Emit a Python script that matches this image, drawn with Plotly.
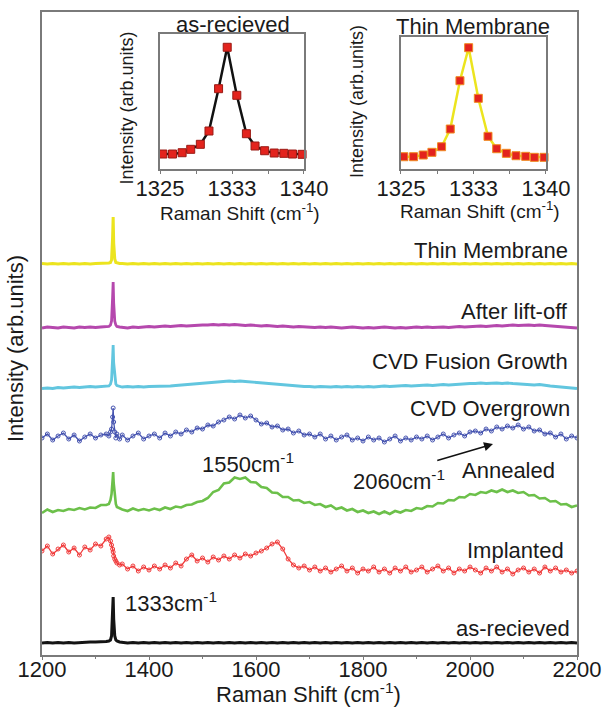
import plotly.graph_objects as go

# ---------------- main spectra data (intensity in arb. units) ----------------
raman_shift = [
    1200, 1210, 1220, 1230, 1240, 1250, 1260, 1270, 1280, 1290, 1300, 1310, 1320,
    1325, 1328, 1330, 1332, 1333, 1334, 1336, 1338, 1340, 1345,
    1350, 1360, 1370, 1380, 1390, 1400,
    1410, 1420, 1430, 1440, 1450, 1460, 1470, 1480, 1490, 1500,
    1510, 1520, 1530, 1540, 1550, 1560, 1570, 1580, 1590, 1600,
    1610, 1620, 1630, 1640, 1650, 1660, 1670, 1680, 1690, 1700,
    1710, 1720, 1730, 1740, 1750, 1760, 1770, 1780, 1790, 1800,
    1810, 1820, 1830, 1840, 1850, 1860, 1870, 1880, 1890, 1900,
    1910, 1920, 1930, 1940, 1950, 1960, 1970, 1980, 1990, 2000,
    2010, 2020, 2030, 2040, 2050, 2060, 2070, 2080, 2090, 2100,
    2110, 2120, 2130, 2140, 2150, 2160, 2170, 2180, 2190, 2200,
]

thin_membrane = [
    391.5, 391, 391.5, 391, 391.5, 391, 391.5, 391, 391.5, 391, 391.5, 391.5, 391.5,
    392, 392.5, 395, 418, 438, 412, 396, 392.5, 392, 391.5,
    391.5, 391, 391.5, 391, 391.5, 391,
    391.5, 391, 391.5, 391, 391.5, 391, 391.5, 391, 391.5, 391,
    391.5, 391, 391.5, 391, 391.5, 391, 391.5, 391, 391.5, 391,
    391.5, 391, 391.5, 391, 391.5, 391, 391.5, 391, 391.5, 391,
    391.5, 391, 391.5, 391, 391.5, 391, 391.5, 391, 391.5, 391,
    391.5, 391, 391.5, 391, 391.5, 391, 391.5, 391, 391.5, 391,
    391.5, 391, 391.5, 391, 391.5, 391, 391.5, 391, 391.5, 391,
    391.5, 391, 391.5, 391, 391.5, 391, 391.5, 391, 391.5, 391,
    391.5, 391, 391.5, 391, 391.5, 391, 391.5, 391, 391.5, 391,
]

after_liftoff = [
    327, 328, 327.5, 327, 328, 327.5, 327, 328, 327.5, 328, 327.5, 328, 328,
    328.5, 330, 334, 358, 373, 352, 334, 330, 328.5, 328,
    327.5, 327, 328, 327.5, 328, 328.5,
    328, 328.5, 329, 328.5, 329, 329.5, 329, 329.5, 330, 330,
    330, 330.5, 330, 330.5, 330, 330.5, 330, 329.5, 330, 329.5,
    329, 329.5, 329, 328.5, 329, 328.5, 328, 328.5, 328, 328,
    327.5, 328, 327.5, 328, 327.5, 327, 327.5, 328, 327.5, 327,
    327.5, 327, 327.5, 328, 327.5, 327, 327.5, 327, 327.5, 328,
    327.5, 328, 327.5, 328, 328, 327.5, 328, 328.5, 328, 328.5,
    328.5, 329, 328.5, 329, 329.5, 329, 329.5, 330, 329.5, 330,
    330, 329.5, 330, 329.5, 329, 328.5, 328, 327.5, 327.5, 327,
]

cvd_fusion = [
    266.5, 267, 266.5, 267.5, 267, 267.5, 268, 267.5, 268, 268.5, 268, 268.5, 268.5,
    269, 271, 275, 297, 310, 292, 276, 271, 269.5, 268.5,
    268, 268.5, 268, 268.5, 268, 268.5,
    268.5, 269, 268.5, 269, 269.5, 270, 270.5, 271, 271.5, 272,
    272.5, 273, 273.5, 274, 274, 273.5, 274, 273.5, 273, 272.5,
    272, 271.5, 271, 270.5, 270, 269.5, 269, 269, 268.5, 268.5,
    268, 268.5, 268, 268, 268.5, 268, 268.5, 268, 268.5, 268,
    268.5, 268, 268.5, 269, 268.5, 269, 269, 269.5, 269, 269.5,
    269.5, 270, 269.5, 270, 270.5, 270, 270.5, 271, 271, 271.5,
    271.5, 272, 271.5, 272, 272, 271.5, 272, 271.5, 271, 271,
    270.5, 270, 270.5, 269.5, 269, 268.5, 268, 267.5, 267, 266.5,
]

cvd_overgrown = [
    217, 221, 215, 219, 222, 216, 220, 214, 218, 221, 217, 220, 221,
    219, 223, 226, 238, 247, 233, 223, 217, 221, 216,
    220, 215, 219, 222, 216, 219,
    221, 217, 222, 219, 223, 221, 225, 223, 227, 226,
    230, 229, 233, 235, 238, 236, 240, 237, 239, 235,
    231, 232, 228, 229, 225, 226, 222, 224, 220, 221,
    218, 221, 216, 219, 215, 218, 220, 215, 217, 214,
    218, 215, 217, 213, 216, 219, 214, 217, 215, 218,
    216, 219, 215, 218, 221, 217, 220, 222, 219, 223,
    224, 222, 226, 224, 228, 226, 229, 227, 230, 226,
    228, 224, 225, 221, 222, 218, 221, 216, 219, 217,
]

annealed = [
    142, 145.5, 143, 145, 144, 146, 145, 147, 145.5, 147.5, 147, 150, 150,
    151, 155, 161, 175, 183, 172, 158, 151, 148, 146.5,
    145.5, 144, 146.5, 144.5, 146, 144.5,
    146.5, 145, 147.5, 146, 148.5, 147.5, 150, 150.5, 153, 154,
    157, 163, 165, 171.5, 172.5, 177.5, 176, 177.5, 173, 172.5,
    168, 167, 162.5, 162, 158, 158, 154.5, 155, 152, 153,
    150, 151, 148, 149.5, 146, 147.5, 144.5, 146, 143, 144.5,
    142, 143.5, 141, 143.5, 141, 144, 142.5, 145, 144, 147,
    146, 149, 148.5, 152, 151.5, 155, 154.5, 158, 157.5, 161,
    160, 163, 162, 164.5, 163, 165.5, 163, 164.5, 162, 163,
    159.5, 160, 156.5, 157, 153.5, 154, 150.5, 151, 148, 149.5,
]

implanted = [
    104, 109, 101, 106, 110, 103, 107, 100, 108, 105, 111, 109, 116,
    118, 114, 110, 106, 103, 99, 96, 94, 92, 90,
    91, 86, 89, 84, 88, 85,
    89, 86, 90, 87, 92, 89, 96, 100, 94, 97,
    93, 98, 95, 99, 96, 100, 97, 101, 99, 102,
    104, 107, 111, 113, 106, 96, 90, 87, 89, 85,
    88, 84, 87, 83, 86, 89, 84, 87, 82, 86,
    84, 88, 83, 86, 82, 87, 84, 88, 83, 85,
    88, 83, 86, 89, 84, 87, 82, 86, 84, 88,
    85, 82, 87, 84, 88, 83, 86, 81, 85, 87,
    83, 86, 82, 88, 84, 87, 83, 85, 82, 84,
]

as_received = [
    12, 12.5, 12, 12.5, 12, 12.5, 12, 12.5, 12.5, 13, 13, 13, 13.5,
    14, 15, 19, 42, 58, 36, 19, 15, 14, 13,
    12.5, 12, 12.5, 12, 12.5, 12,
    12.5, 12, 12.5, 12, 12.5, 12, 12.5, 12, 12.5, 12,
    12.5, 12, 12.5, 12, 12.5, 12, 12.5, 12, 12.5, 12,
    12.5, 12, 12.5, 12, 12.5, 12, 12.5, 12, 12.5, 12,
    12.5, 12, 12.5, 12, 12.5, 12, 12.5, 12, 12.5, 12,
    12.5, 12, 12.5, 12, 12.5, 12, 12.5, 12, 12.5, 12,
    12.5, 12, 12.5, 12, 12.5, 12, 12.5, 12, 12.5, 12,
    12.5, 12, 12.5, 12, 12.5, 12, 12.5, 12, 12.5, 12,
    12.5, 12, 12.5, 12, 12.5, 12, 12.5, 12, 12.5, 12,
]

# ---------------- inset data ----------------
inset_shift = [1325.3, 1326.3, 1327.3, 1328.2, 1329.2, 1330.1, 1331.1, 1332.0,
               1333.0, 1334.0, 1334.9, 1335.9, 1336.9, 1337.9, 1338.8, 1339.8]
inset_as_received = [15, 15, 16.3, 19.7, 24.7, 38, 80.3, 121.7,
                     73.7, 35.3, 23, 18.3, 16, 15.7, 15, 14.7]
inset_thin_membrane = [12.3, 12.3, 14, 16.7, 22.3, 40, 88.3, 121.3,
                       70.7, 32.7, 20.3, 15.7, 13.3, 12.7, 11.7, 11.7]
inset_tickvals = [1325, 1332.5, 1340]
inset_ticktext = ["1325", "1333", "1340"]
inset_minor_ticks = [1328.75, 1336.25]
main_tickvals = [1200, 1400, 1600, 1800, 2000, 2200]

# (name, values, colour, line width, open-circle markers?)
series = [
    ("as-recieved", as_received, "#141414", 3.0, False),
    ("Implanted", implanted, "#f03a3a", 1.3, True),
    ("Annealed", annealed, "#6cc04a", 2.6, False),
    ("CVD Overgrown", cvd_overgrown, "#4553b0", 1.3, True),
    ("CVD Fusion Growth", cvd_fusion, "#62c6df", 2.8, False),
    ("After lift-off", after_liftoff, "#b548ad", 2.8, False),
    ("Thin Membrane", thin_membrane, "#ece41e", 3.0, False),
]
for s in series:
    if len(s[1]) != len(raman_shift):
        raise ValueError(f"{s[0]}: {len(s[1])} vs {len(raman_shift)}")

FONT = "Liberation Sans, Arial, sans-serif"
TXT = "#1a1a1a"
FRAME = "#7a7a7a"

fig = go.Figure()
for name, ys, col, w, mk in series:
    fig.add_trace(go.Scatter(x=raman_shift, y=ys, mode="lines+markers" if mk else "lines",
                             name=name, line=dict(color=col, width=w),
                             marker=dict(symbol="circle-open", size=4, color=col,
                                         line=dict(width=1)),
                             xaxis="x", yaxis="y", showlegend=False))

fig.add_trace(go.Scatter(x=inset_shift, y=inset_as_received, mode="lines+markers",
                         line=dict(color="#111111", width=2.5),
                         marker=dict(symbol="square", size=8, color="#e3231d",
                                     line=dict(color="#9a1a14", width=1)),
                         xaxis="x2", yaxis="y2", showlegend=False, cliponaxis=False))
fig.add_trace(go.Scatter(x=inset_shift, y=inset_thin_membrane, mode="lines+markers",
                         line=dict(color="#ece41e", width=2.5),
                         marker=dict(symbol="square", size=8, color="#e3231d",
                                     line=dict(color="#f08a20", width=1)),
                         xaxis="x3", yaxis="y3", showlegend=False, cliponaxis=False))

axis_common = dict(showline=True, linecolor=FRAME, linewidth=1.5, mirror=True,
                   showgrid=False, zeroline=False)

inset_x = dict(range=[1325, 1340], tickvals=inset_tickvals, ticktext=inset_ticktext,
               ticks="outside", ticklen=3, tickcolor=FRAME, ticklabelstandoff=-4,
               minor=dict(tickvals=inset_minor_ticks, ticks="outside", ticklen=3,
                          tickcolor=FRAME),
               tickfont=dict(size=22), **axis_common)

fig.update_layout(
    width=604, height=710,
    margin=dict(l=42, r=27, t=12, b=55, autoexpand=False),
    paper_bgcolor="white", plot_bgcolor="white",
    font=dict(family=FONT, color=TXT, size=22),
    xaxis=dict(domain=[0, 1], range=[1200, 2200], tickvals=main_tickvals,
               ticks="outside", ticklen=3, tickcolor=FRAME, tickwidth=1,
               ticklabelstandoff=-9,
               minor=dict(dtick=100, tick0=1200, ticks="outside", ticklen=2, tickcolor=FRAME),
               tickfont=dict(size=22), **axis_common),
    yaxis=dict(domain=[0, 1], range=[0, 643], showticklabels=False, ticks="",
               **axis_common),
    xaxis2=dict(domain=[0.2206, 0.4897], anchor="y2", **inset_x),
    yaxis2=dict(domain=[0.7558, 0.9658], range=[0, 135], anchor="x2",
                showticklabels=False, ticks="", **axis_common),
    xaxis3=dict(domain=[0.671, 0.942], anchor="y3", **inset_x),
    yaxis3=dict(domain=[0.7558, 0.9611], range=[0, 132], anchor="x3",
                showticklabels=False, ticks="", **axis_common),
)

ann = []
def add(text, x, y, xanchor="center", size=22, xref="x", yref="y", angle=0):
    ann.append(dict(text=text, x=x, y=y, xref=xref, yref=yref, xanchor=xanchor,
                    yanchor="middle", showarrow=False, textangle=angle,
                    font=dict(size=size, color=TXT, family=FONT)))

# series labels (data coords)
add("Thin Membrane", 2187, 405, "right")
add("After lift-off", 2187, 343.3, "right")
add("CVD Fusion Growth", 2187, 293.3, "right")
add("CVD Overgrown", 2190.5, 246.7, "right")
add("Annealed", 2162.6, 185, "right")
add("Implanted", 2180, 105, "right")
add("as-recieved", 2190.5, 26.7, "right")
add("1550cm<sup>-1</sup>", 1495, 192, "left")
add("2060cm<sup>-1</sup>", 1777, 175, "left")
add("1333cm<sup>-1</sup>", 1351, 53.3, "left")

# axis titles
add("Intensity (arb.units)", -0.0505, 0.4774, "center", 22, "paper", "paper", -90)
add("Raman Shift (cm<sup>-1</sup>)", 0.499, -0.059, "center", 22, "paper", "paper")
# inset titles
add("as-recieved", 0.357, 0.9798, "center", 22, "paper", "paper")
add("Thin Membrane", 0.8056, 0.977, "center", 22, "paper", "paper")
add("Raman Shift (cm<sup>-1</sup>)", 0.370, 0.6894, "center", 19, "paper", "paper")
add("Raman Shift (cm<sup>-1</sup>)", 0.8187, 0.692, "center", 19, "paper", "paper")
add("Intensity (arb.units)", 0.1607, 0.8515, "center", 18, "paper", "paper", -90)
add("Intensity (arb.units)", 0.5888, 0.860, "center", 18, "paper", "paper", -90)

# arrow to 2060 band
ann.append(dict(x=2043, y=211, ax=1936, ay=194, xref="x", yref="y", axref="x", ayref="y",
                showarrow=True, arrowhead=2, arrowsize=1.2, arrowwidth=1.5,
                arrowcolor="#111111", text=""))

fig.update_layout(annotations=ann)
fig.write_html("out.html", config={"displayModeBar": False},
               post_script="document.body.style.margin='0';document.body.style.overflow='hidden';")
